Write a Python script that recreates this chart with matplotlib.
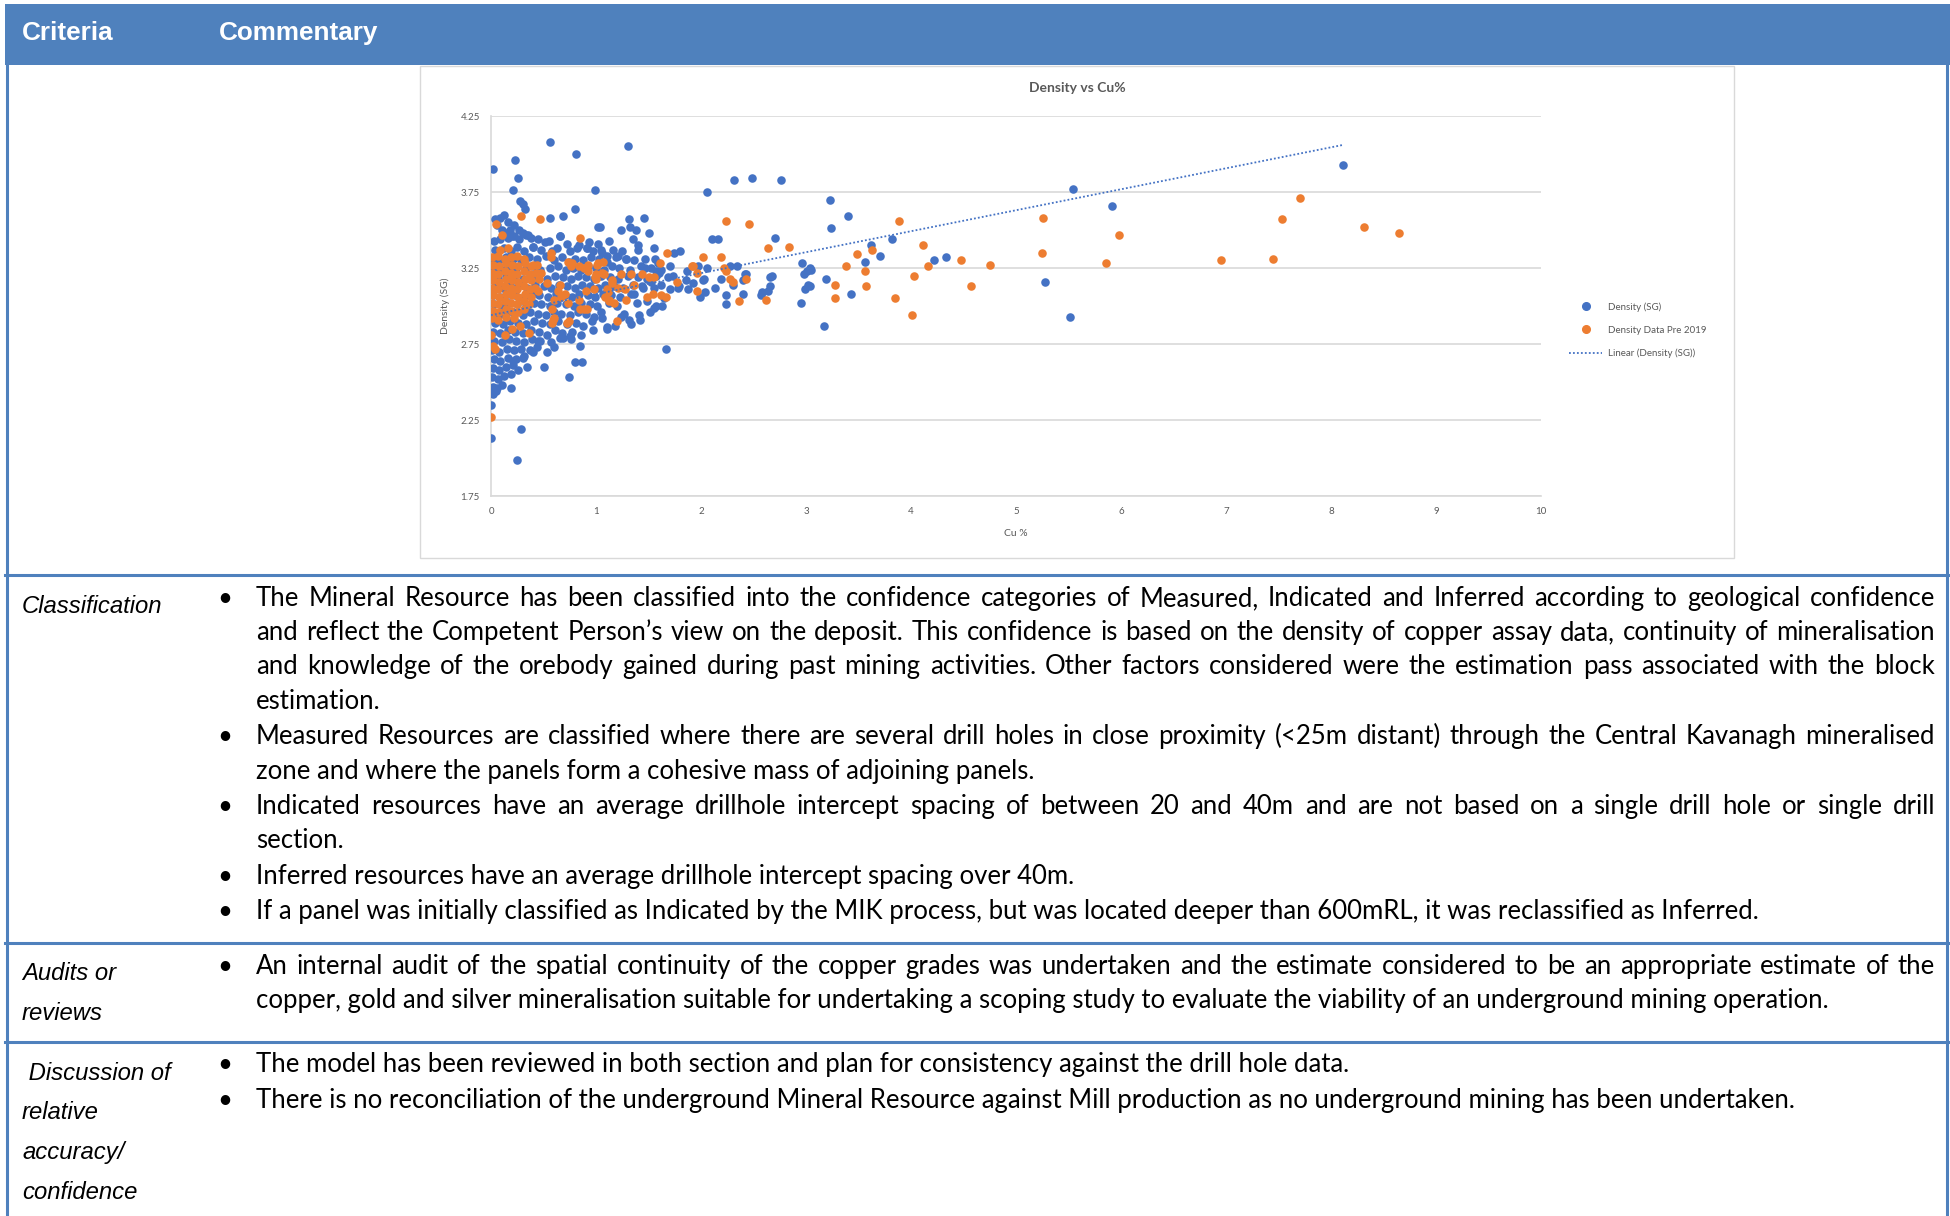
import matplotlib
matplotlib.use('Agg')
import matplotlib.pyplot as plt
import numpy as np
from matplotlib.lines import Line2D
from matplotlib.patches import Rectangle

# ---------------- DATA ----------------
x_ticks = [0, 1, 2, 3, 4, 5, 6, 7, 8, 9, 10]
y_ticks = [1.75, 2.25, 2.75, 3.25, 3.75, 4.25]

blue_outliers = [
    (0.02, 3.90), (0.23, 3.96), (0.26, 3.84), (0.21, 3.76), (0.56, 4.08), (0.81, 4.00),
    (1.30, 4.05), (0.99, 3.76), (0.28, 3.69), (0.30, 3.67), (0.32, 3.64), (0.80, 3.64),
    (2.06, 3.75), (2.31, 3.83), (2.49, 3.84), (2.76, 3.83),
    (3.23, 3.70), (3.40, 3.59), (3.24, 3.51), (5.54, 3.77), (5.91, 3.66), (8.11, 3.93),
    (5.28, 3.16), (5.51, 2.93), (3.17, 2.87), (1.67, 2.72),
    (0.00, 2.35), (0.00, 2.13), (0.29, 2.19), (0.25, 1.99),
]
blue_upper = [
    (0.04, 3.57), (0.09, 3.58), (0.12, 3.60), (0.16, 3.55), (0.22, 3.53), (0.56, 3.58),
    (0.69, 3.59), (1.02, 3.52), (0.66, 3.46), (0.51, 3.42), (0.40, 3.39), (0.91, 3.38),
    (0.10, 3.50), (0.14, 3.48), (0.18, 3.50), (0.27, 3.50), (0.35, 3.47), (1.31, 3.57),
    (1.46, 3.58), (1.32, 3.52), (1.38, 3.50), (1.24, 3.50), (1.50, 3.48), (1.04, 3.52),
    (0.06, 3.53), (0.20, 3.46), (0.30, 3.48),
]
blue_core = [
    (0.03, 3.43), (0.09, 3.44), (0.16, 3.45), (0.22, 3.46), (0.27, 3.44), (0.33, 3.47), (0.38, 3.45),
    (0.45, 3.44), (0.55, 3.43), (0.66, 3.46), (0.72, 3.41), (0.84, 3.40), (0.93, 3.42), (1.02, 3.41), (1.12, 3.43),
    (0.04, 3.37), (0.12, 3.38), (0.19, 3.36), (0.25, 3.39), (0.31, 3.36), (0.40, 3.39), (0.48, 3.37), (0.58, 3.36),
    (0.63, 3.38), (0.75, 3.36), (0.82, 3.38), (0.91, 3.38), (0.97, 3.36), (1.06, 3.35), (1.16, 3.37), (1.25, 3.36), (1.40, 3.37),
    (0.02, 3.31), (0.08, 3.30), (0.14, 3.32), (0.21, 3.31), (0.29, 3.30), (0.36, 3.32), (0.44, 3.31), (0.52, 3.33),
    (0.60, 3.30), (0.68, 3.32), (0.74, 3.29), (0.80, 3.31), (0.88, 3.30), (0.95, 3.32), (1.03, 3.31), (1.10, 3.29),
    (1.19, 3.32), (1.29, 3.31), (1.36, 3.30), (1.47, 3.31),
    (0.03, 3.25), (0.10, 3.24), (0.17, 3.26), (0.24, 3.25), (0.32, 3.24), (0.40, 3.26), (0.47, 3.24), (0.56, 3.25),
    (0.64, 3.26), (0.71, 3.24), (0.78, 3.25), (0.86, 3.24), (0.92, 3.26), (1.00, 3.25), (1.08, 3.24), (1.15, 3.26),
    (1.22, 3.25), (1.32, 3.24), (1.43, 3.26), (1.52, 3.25), (1.62, 3.24),
    (0.01, 3.19), (0.07, 3.18), (0.14, 3.20), (0.22, 3.19), (0.30, 3.18), (0.37, 3.20), (0.45, 3.19), (0.53, 3.18),
    (0.61, 3.20), (0.69, 3.19), (0.76, 3.18), (0.83, 3.20), (0.90, 3.19), (0.98, 3.18), (1.05, 3.20), (1.13, 3.19),
    (1.21, 3.18), (1.30, 3.20), (1.40, 3.19), (1.49, 3.18), (1.57, 3.20),
    (0.04, 3.13), (0.11, 3.12), (0.18, 3.14), (0.26, 3.13), (0.34, 3.12), (0.42, 3.14), (0.50, 3.13), (0.57, 3.12),
    (0.65, 3.14), (0.72, 3.13), (0.80, 3.12), (0.87, 3.14), (0.94, 3.13), (1.02, 3.12), (1.09, 3.14), (1.17, 3.13),
    (1.26, 3.12), (1.35, 3.14), (1.44, 3.13), (1.55, 3.12),
    (0.02, 3.07), (0.09, 3.06), (0.16, 3.08), (0.23, 3.07), (0.31, 3.06), (0.39, 3.08), (0.46, 3.07), (0.54, 3.06),
    (0.62, 3.08), (0.70, 3.07), (0.77, 3.06), (0.84, 3.08), (0.92, 3.07), (0.99, 3.06), (1.07, 3.08), (1.14, 3.07),
    (1.23, 3.06), (1.33, 3.08),
    (0.03, 3.01), (0.10, 3.00), (0.17, 3.02), (0.25, 3.01), (0.33, 3.00), (0.41, 3.02), (0.48, 3.01), (0.56, 3.00),
    (0.63, 3.02), (0.71, 3.01), (0.79, 3.00), (0.86, 3.02), (0.94, 3.01), (1.01, 3.00), (1.12, 3.02), (1.20, 3.00),
    (0.01, 2.95), (0.08, 2.94), (0.15, 2.96), (0.22, 2.95), (0.30, 2.94), (0.37, 2.96), (0.45, 2.95), (0.52, 2.94),
    (0.60, 2.96), (0.67, 2.95), (0.75, 2.94), (0.83, 2.96), (0.90, 2.95), (0.98, 2.93), (1.05, 2.96),
    (0.04, 2.89), (0.11, 2.88), (0.18, 2.90), (0.26, 2.89), (0.33, 2.88), (0.41, 2.90), (0.49, 2.89), (0.56, 2.88),
    (0.64, 2.90), (0.72, 2.88), (0.81, 2.89), (0.88, 2.87), (0.96, 2.90),
    (0.02, 2.83), (0.09, 2.82), (0.16, 2.84), (0.23, 2.83), (0.30, 2.82), (0.38, 2.84), (0.46, 2.83), (0.53, 2.81),
    (0.61, 2.84), (0.68, 2.82), (0.77, 2.83), (0.86, 2.81),
    (0.03, 2.77), (0.10, 2.76), (0.17, 2.78), (0.24, 2.77), (0.31, 2.76), (0.39, 2.78), (0.47, 2.77), (0.57, 2.76),
    (0.66, 2.79), (0.76, 2.78),
    (0.01, 2.71), (0.08, 2.70), (0.15, 2.72), (0.22, 2.71), (0.29, 2.72), (0.37, 2.71), (0.44, 2.73),
    (0.03, 2.65), (0.09, 2.64), (0.16, 2.66), (0.24, 2.65), (0.31, 2.67),
    (0.02, 2.59), (0.08, 2.58), (0.14, 2.60), (0.21, 2.61),
    (0.01, 2.53), (0.07, 2.52), (0.12, 2.54),
    (0.02, 2.47), (0.06, 2.46), (0.10, 2.48),
]
blue_lowtail = [
    (0.53, 2.70), (0.21, 2.64), (0.34, 2.60), (0.26, 2.58), (0.50, 2.60), (0.80, 2.63), (0.87, 2.63),
    (0.74, 2.53), (0.19, 2.55), (0.19, 2.46), (0.05, 2.44), (0.02, 2.42), (0.45, 2.77), (0.69, 2.79),
    (0.75, 2.80), (0.85, 2.74), (0.97, 2.84), (1.10, 2.86), (0.30, 2.66), (0.40, 2.70), (0.60, 2.73),
]
blue_mid = [
    (1.80, 3.36), (1.74, 3.35), (2.10, 3.44), (2.16, 3.44), (2.70, 3.45), (2.96, 3.28), (3.04, 3.25),
    (3.01, 3.23), (2.98, 3.21), (1.59, 3.28), (1.70, 3.26), (2.06, 3.25), (2.28, 3.26), (2.34, 3.26),
    (2.68, 3.20), (2.66, 3.19), (2.43, 3.21), (1.87, 3.23), (1.97, 3.26), (2.95, 3.02), (2.99, 3.11),
    (3.02, 3.14), (2.66, 3.13), (2.58, 3.09), (2.40, 3.08), (2.40, 3.17), (2.24, 3.01), (2.24, 3.07),
    (2.19, 3.18), (2.04, 3.09), (1.99, 3.06), (2.03, 3.18), (1.88, 3.11), (1.86, 3.17), (1.79, 3.13),
    (1.70, 3.11), (1.69, 3.19), (1.60, 3.22), (1.57, 3.23), (1.62, 3.14), (1.63, 3.00), (1.57, 3.00),
    (1.55, 2.99), (1.51, 2.96), (1.41, 2.94), (1.42, 2.91), (1.33, 2.88), (1.31, 2.91), (1.27, 2.95),
    (1.24, 2.93), (1.18, 2.87), (1.10, 2.85), (1.06, 2.92), (1.39, 3.02), (1.49, 3.03), (1.36, 3.08),
    (1.05, 3.37), (1.10, 3.33), (1.21, 3.33), (1.29, 3.31), (2.64, 3.10), (2.57, 3.07), (2.42, 3.21),
    (1.78, 3.12), (2.02, 3.17), (1.45, 3.12), (1.52, 3.16), (1.47, 3.25), (1.56, 3.31), (1.65, 3.05),
    (1.73, 3.20), (1.92, 3.15), (2.13, 3.12), (2.30, 3.14), (1.40, 3.40), (1.55, 3.38), (1.35, 3.44),
]
blue_right = [
    (3.05, 3.24), (3.19, 3.18), (3.04, 3.13), (3.43, 3.08), (3.62, 3.40), (3.56, 3.29), (3.70, 3.33),
    (3.82, 3.44), (4.22, 3.30), (4.33, 3.32),
]

orange_block = [
    (0.01, 3.32), (0.07, 3.33), (0.13, 3.31), (0.19, 3.32), (0.25, 3.33), (0.31, 3.31),
    (0.02, 3.27), (0.08, 3.26), (0.14, 3.28), (0.20, 3.27), (0.26, 3.26), (0.32, 3.28), (0.38, 3.26),
    (0.01, 3.22), (0.07, 3.21), (0.13, 3.23), (0.19, 3.22), (0.25, 3.21), (0.31, 3.23), (0.37, 3.21), (0.43, 3.22),
    (0.02, 3.17), (0.08, 3.16), (0.14, 3.18), (0.20, 3.17), (0.26, 3.16), (0.32, 3.18), (0.38, 3.17),
    (0.01, 3.12), (0.07, 3.11), (0.13, 3.13), (0.19, 3.12), (0.25, 3.11), (0.31, 3.13), (0.37, 3.11), (0.42, 3.12),
    (0.02, 3.07), (0.08, 3.06), (0.14, 3.08), (0.20, 3.07), (0.26, 3.06), (0.32, 3.08), (0.38, 3.06),
    (0.01, 3.02), (0.07, 3.01), (0.13, 3.03), (0.19, 3.02), (0.25, 3.01), (0.31, 3.03), (0.36, 3.01),
    (0.02, 2.97), (0.08, 2.96), (0.14, 2.98), (0.20, 2.97), (0.26, 2.96), (0.31, 2.98),
    (0.01, 2.92), (0.07, 2.91), (0.14, 2.93), (0.22, 2.92),
]
orange_near = [
    (0.05, 3.54), (0.10, 3.47), (0.29, 3.59), (0.47, 3.57), (0.85, 3.45), (0.57, 3.35), (0.57, 3.32),
    (0.73, 3.29), (0.09, 3.37), (0.16, 3.38), (1.01, 3.27), (0.89, 3.25), (0.92, 3.23), (1.00, 3.21),
    (0.76, 3.26), (0.64, 3.10), (0.60, 3.04), (0.58, 2.98), (0.73, 3.02), (0.67, 3.06), (0.90, 3.10),
    (0.89, 2.98), (0.85, 2.98), (1.00, 3.18), (0.98, 3.11), (1.11, 3.09), (1.12, 3.04), (1.15, 3.17),
    (0.59, 2.91), (0.74, 2.90), (0.36, 2.82), (0.28, 2.87), (0.20, 2.85), (0.13, 2.81), (0.91, 2.98),
    (0.84, 3.04), (0.70, 3.08), (0.53, 3.15), (0.66, 3.14), (0.99, 3.19), (1.06, 3.22), (0.84, 3.26),
    (0.48, 3.22), (0.45, 3.10), (0.46, 3.18), (0.44, 3.27), (0.00, 2.81), (0.02, 2.74), (0.04, 2.72),
    (0.60, 2.92), (0.58, 2.89), (0.72, 2.89), (0.40, 3.27), (0.77, 3.28), (0.92, 3.27), (1.02, 3.28),
    (1.07, 3.29), (0.00, 2.27),
]
orange_mid = [
    (2.24, 3.56), (2.46, 3.54), (2.64, 3.38), (2.84, 3.39), (1.68, 3.35), (2.02, 3.32), (2.19, 3.32),
    (1.61, 3.28), (1.92, 3.26), (1.96, 3.22), (2.24, 3.23), (1.08, 3.21), (1.24, 3.21), (1.33, 3.21),
    (1.44, 3.21), (1.50, 3.19), (1.55, 3.19), (1.67, 3.06), (1.62, 3.07), (1.54, 3.08), (1.49, 3.06),
    (1.36, 3.14), (1.28, 3.11), (1.21, 3.12), (1.15, 3.15), (1.10, 3.11), (1.09, 3.06), (1.12, 3.03),
    (1.17, 3.02), (1.20, 2.90), (1.29, 3.04), (1.77, 3.16), (1.96, 3.10), (1.91, 3.26), (2.22, 3.25),
    (2.28, 3.18), (2.30, 3.16), (2.43, 3.18), (2.36, 3.03), (2.62, 3.04),
]
orange_right = [
    (3.28, 3.14), (3.49, 3.34), (3.63, 3.37), (3.38, 3.26), (3.56, 3.23), (3.28, 3.05), (3.57, 3.13),
    (3.85, 3.05), (3.89, 3.56), (4.01, 2.94), (4.03, 3.20), (4.11, 3.40), (4.16, 3.26), (4.48, 3.30),
    (4.57, 3.13), (4.75, 3.27), (5.26, 3.58), (5.25, 3.35), (5.86, 3.28), (5.98, 3.47), (6.95, 3.30),
    (7.45, 3.31), (7.53, 3.57), (7.70, 3.71), (8.31, 3.52), (8.65, 3.48),
]

trend_intercept = 2.94
trend_slope = 0.138

series_labels = ['Density (SG)', 'Density Data Pre 2019', 'Linear (Density (SG))']
chart_title = 'Density vs Cu%'
x_label = 'Cu %'
y_label = 'Density (SG)'

header_labels = ['Criteria', 'Commentary']

classification_lines = [
    ('The Mineral Resource has been classified into the confidence categories of Measured, Indicated and Inferred according to geological confidence', True, True),
    ('and reflect the Competent Person\u2019s view on the deposit. This confidence is based on the density of copper assay data, continuity of mineralisation', False, True),
    ('and knowledge of the orebody gained during past mining activities. Other factors considered were the estimation pass associated with the block', False, True),
    ('estimation.', False, False),
    ('Measured Resources are classified where there are several drill holes in close proximity (<25m distant) through the Central Kavanagh mineralised', True, True),
    ('zone and where the panels form a cohesive mass of adjoining panels.', False, False),
    ('Indicated resources have an average drillhole intercept spacing of between 20 and 40m and are not based on a single drill hole or single drill', True, True),
    ('section.', False, False),
    ('Inferred resources have an average drillhole intercept spacing over 40m.', True, False),
    ('If a panel was initially classified as Indicated by the MIK process, but was located deeper than 600mRL, it was reclassified as Inferred.', True, False),
]
audit_lines = [
    ('An internal audit of the spatial continuity of the copper grades was undertaken and the estimate considered to be an appropriate estimate of the', True, True),
    ('copper, gold and silver mineralisation suitable for undertaking a scoping study to evaluate the viability of an underground mining operation.', False, False),
]
discussion_lines = [
    ('The model has been reviewed in both section and plan for consistency against the drill hole data.', True, False),
    ('There is no reconciliation of the underground Mineral Resource against Mill production as no underground mining has been undertaken.', True, False),
]
criteria_labels = {
    'Classification': [('Classification', 604)],
    'Audits': [('Audits or', 971), ('reviews', 1011)],
    'Discussion': [(' Discussion of', 1071), ('relative', 1110), ('accuracy/', 1150), ('confidence', 1190)],
}

# ---------------- FIGURE ----------------
W, H = 1950, 1216
fig = plt.figure(figsize=(W / 100, H / 100), dpi=100)
fig.patch.set_facecolor('white')
renderer = fig.canvas.get_renderer()

HDR = '#4F81BD'
C_BLUE = '#4472C4'
C_ORANGE = '#ED7D31'
GRAY_TXT = '#595959'
GRID = '#D9D9D9'


def fx(x):
    return x / W


def fy(y):
    return 1 - y / H


def text_width(s, size, **kw):
    t = fig.text(0, 0, s, fontsize=size, **kw)
    w = t.get_window_extent(renderer).width
    t.remove()
    return w


def fit_size(s, target, **kw):
    return 20 * target / text_width(s, 20, **kw)


# table header
fig.add_artist(Rectangle((fx(5), fy(65)), (1950 - 5) / W, (65 - 4) / H,
                         transform=fig.transFigure, facecolor=HDR, edgecolor='none', zorder=-2))
hdr_kw = dict(family='Liberation Sans', weight='bold')
hdr_size = 0.5 * (fit_size('Criteria', 91, **hdr_kw) + fit_size('Commentary', 160, **hdr_kw))
fig.text(fx(22), fy(33), header_labels[0], color='white', fontsize=hdr_size, va='center', ha='left', **hdr_kw)
fig.text(fx(219), fy(33), header_labels[1], color='white', fontsize=hdr_size, va='center', ha='left', **hdr_kw)

# table borders
for yy in [575, 943, 1042]:
    fig.add_artist(Line2D([fx(5), fx(1950)], [fy(yy), fy(yy)], color=HDR, lw=2.2,
                          transform=fig.transFigure, zorder=-1))
fig.add_artist(Line2D([fx(7), fx(7)], [fy(65), fy(1216)], color=HDR, lw=2.2, transform=fig.transFigure, zorder=-1))
fig.add_artist(Line2D([fx(1947), fx(1947)], [fy(65), fy(1216)], color=HDR, lw=2.2, transform=fig.transFigure, zorder=-1))

# chart box (behind the plot)
fig.add_artist(Rectangle((fx(420), fy(558)), (1734 - 420) / W, (558 - 66) / H,
                         transform=fig.transFigure, facecolor='white', edgecolor=GRID, lw=1.0, zorder=-1))

# ---------------- SCATTER ----------------
ax = fig.add_axes([491 / W, 1 - 496 / H, 1050 / W, 380 / H])
ax.set_zorder(2)
ax.set_facecolor('none')
blue = np.array(blue_outliers + blue_upper + blue_core + blue_lowtail + blue_mid + blue_right)
orange = np.array(orange_block + orange_near + orange_mid + orange_right)

MS = 38
ax.scatter(blue[:, 0], blue[:, 1], s=MS, color=C_BLUE, linewidths=0, zorder=3, label=series_labels[0])
ax.scatter(orange[:, 0], orange[:, 1], s=MS, color=C_ORANGE, linewidths=0, zorder=4, label=series_labels[1])
tx = np.array([0.0, blue[:, 0].max()])
ax.plot(tx, trend_intercept + trend_slope * tx, color=C_BLUE, lw=1.3, linestyle=(0, (1, 1.2)),
        zorder=5, label=series_labels[2])

ax.set_xlim(0, 10)
ax.set_ylim(1.75, 4.25)
ax.set_xticks(x_ticks)
ax.set_xticklabels([str(v) for v in x_ticks])
ax.set_yticks(y_ticks)
ax.set_yticklabels(['%.2f' % v for v in y_ticks])
ax.grid(axis='y', color=GRID, lw=1.2, zorder=0)
ax.set_axisbelow(True)
for side in ['top', 'right']:
    ax.spines[side].set_visible(False)
ax.spines['bottom'].set_color(GRID)
ax.spines['bottom'].set_linewidth(1.2)
ax.spines['left'].set_color(GRID)
ax.spines['left'].set_linewidth(1.2)
ax.tick_params(length=0, labelsize=7, labelcolor=GRAY_TXT, pad=8)
for lab in ax.get_xticklabels() + ax.get_yticklabels():
    lab.set_family('Lato')

fig.text(fx(1077), fy(88), chart_title, fontsize=10, color=GRAY_TXT, ha='center', va='center',
         family='Lato', weight='bold')
fig.text(fx(1016), fy(534), x_label, fontsize=7.5, color=GRAY_TXT, ha='center', va='center', family='Lato')
fig.text(fx(445), fy(306), y_label, fontsize=7.5, color=GRAY_TXT, ha='center', va='center',
         rotation=90, family='Lato')

handles = [
    Line2D([], [], marker='o', color=C_BLUE, linestyle='none', markersize=5.5),
    Line2D([], [], marker='o', color=C_ORANGE, linestyle='none', markersize=5.5),
    Line2D([], [], color=C_BLUE, lw=1.3, linestyle=(0, (1, 1.2))),
]
leg = ax.legend(handles, series_labels, loc='upper left', bbox_to_anchor=(fx(1569), fy(302)),
                bbox_transform=fig.transFigure, frameon=False, labelcolor=GRAY_TXT,
                handlelength=3.4, handletextpad=0.6, labelspacing=1.45, borderpad=0, borderaxespad=0,
                prop={'family': 'Lato', 'size': 7})

# ---------------- TABLE TEXT ----------------
body_kw = dict(family='Lato')
body_size = fit_size(classification_lines[9][0], 1506, **body_kw)
body_px = body_size * 100 / 72
X_TEXT = 256
X_RIGHT = 1935
X_BULLET = 225


def put_line(s, y_center, bullet, justify):
    base = round(y_center + 0.36 * body_px)
    if bullet:
        fig.text(fx(X_BULLET), fy(base), '\u2022', fontsize=body_size, ha='center', va='baseline', **body_kw)
    if not justify:
        fig.text(fx(X_TEXT), fy(base), s, fontsize=body_size, ha='left', va='baseline', **body_kw)
        return
    words = s.split(' ')
    widths = [text_width(w, body_size, **body_kw) for w in words]
    gap = (X_RIGHT - X_TEXT - sum(widths)) / (len(words) - 1)
    x = X_TEXT
    for w, wd in zip(words, widths):
        fig.text(fx(x), fy(base), w, fontsize=body_size, ha='left', va='baseline', **body_kw)
        x += wd + gap


class_y = [597, 631, 665, 700, 735, 770, 805, 839, 875, 910]
for (s, b, j), yy in zip(classification_lines, class_y):
    put_line(s, yy, b, j)
for (s, b, j), yy in zip(audit_lines, [965, 999]):
    put_line(s, yy, b, j)
for (s, b, j), yy in zip(discussion_lines, [1063, 1099]):
    put_line(s, yy, b, j)

crit_kw = dict(family='Liberation Sans', style='italic')
crit_size = fit_size('Classification', 140, **crit_kw)
crit_px = crit_size * 100 / 72
for key, items in criteria_labels.items():
    for s, yy in items:
        fig.text(fx(22), fy(yy + 0.36 * crit_px), s, fontsize=crit_size, ha='left', va='baseline', **crit_kw)

fig.savefig('out.png', dpi=100, facecolor='white')
